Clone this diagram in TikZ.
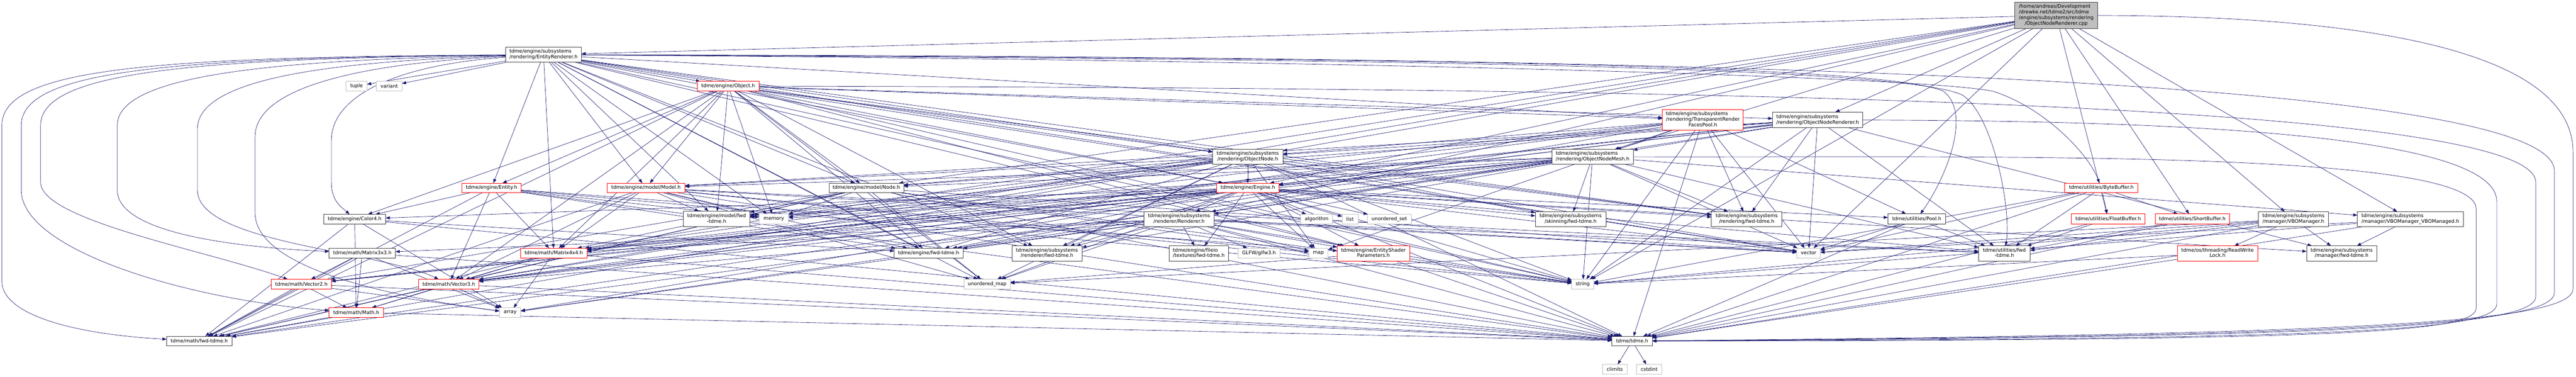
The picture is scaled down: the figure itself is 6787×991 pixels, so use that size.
\documentclass[tikz,border=0pt]{standalone}
\usepackage{fontspec}
\newfontfamily\dejavu{DejaVu Sans}
\usetikzlibrary{arrows.meta}
\definecolor{edgecol}{HTML}{191970}
\definecolor{doxgray}{HTML}{BFBFBF}
\definecolor{doxred}{HTML}{FF0000}
\definecolor{doxdark}{HTML}{404040}
\pgfdeclarelayer{back}
\pgfdeclarelayer{lines}
\pgfsetlayers{back,lines,main}
\newcommand{\nodefont}{\dejavu\fontsize{12.95bp}{14.7bp}\selectfont}
\newcommand{\twolab}[2]{\begin{tabular}{@{}l@{}}#1\\\multicolumn{1}{@{}c@{}}{#2}\end{tabular}}
\newcommand{\dnode}[7]{\node[#1, minimum width={(#4-#3)*1bp}, minimum height={(#6-#5)*1bp}] (#2) at ({(#3+#4)/2},{(#5+#6)/2}) {#7};}
\begin{document}
\begin{tikzpicture}[x=1bp,y=-1bp,
  box/.style={draw, fill=white, inner sep=0pt, outer sep=0pt, line width=1.1bp, font=\nodefont},
  blk/.style={box, draw=doxdark},
  trunc/.style={box, draw=doxred},
  ext/.style={box, draw=doxgray},
  mainn/.style={box, draw=doxdark, fill=doxgray},
  dep/.style={draw=edgecol, line width=0.9bp, -{Triangle[length=11bp,width=8bp]}}
]
\useasboundingbox (0,0) rectangle (6787,991);
\begin{pgfonlayer}{back}
\fill[white] (0,0) rectangle (6787,991);
\end{pgfonlayer}

% ---------------- nodes ----------------
\dnode{mainn}{cpp}{5308}{5527}{6}{75}{\twolab{/home/andreas/Development\\/drewke.net/tdme2/src/tdme\\/engine/subsystems/rendering}{/ObjectNodeRenderer.cpp}}
\dnode{blk}{er}{1332}{1532}{124}{164}{\twolab{tdme/engine/subsystems}{/rendering/EntityRenderer.h}}
\dnode{ext}{tuple}{912}{967}{214}{239}{tuple}
\dnode{ext}{variant}{992}{1059}{214}{239}{variant}
\dnode{trunc}{object}{1837}{2000}{214}{239}{tdme/engine/Object.h}
\dnode{trunc}{trfp}{4380}{4593}{288}{343}{\twolab{tdme/engine/subsystems\\/rendering/TransparentRender}{FacesPool.h}}
\dnode{blk}{onr}{4670}{4908}{295}{336}{\twolab{tdme/engine/subsystems}{/rendering/ObjectNodeRenderer.h}}
\dnode{blk}{onode}{3195}{3380}{393}{432}{\twolab{tdme/engine/subsystems}{/rendering/ObjectNode.h}}
\dnode{blk}{onmesh}{4089}{4303}{393}{432}{\twolab{tdme/engine/subsystems}{/rendering/ObjectNodeMesh.h}}
\dnode{trunc}{entity}{1217}{1373}{482}{507}{tdme/engine/Entity.h}
\dnode{trunc}{model}{1599}{1805}{482}{507}{tdme/engine/model/Model.h}
\dnode{blk}{mnode}{2184}{2381}{482}{507}{tdme/engine/model/Node.h}
\dnode{trunc}{engine}{3206}{3369}{482}{507}{tdme/engine/Engine.h}
\dnode{trunc}{bytebuf}{5440}{5633}{482}{507}{tdme/utilities/ByteBuffer.h}
\dnode{blk}{color4}{853}{1016}{564}{589}{tdme/engine/Color4.h}
\dnode{blk}{modelfwd}{1800}{1976}{556}{597}{\twolab{tdme/engine/model/fwd}{-tdme.h}}
\dnode{ext}{memory}{2000}{2078}{563}{589}{memory}
\dnode{blk}{renderer}{3014}{3199}{557}{597}{\twolab{tdme/engine/subsystems}{/renderer/Renderer.h}}
\dnode{ext}{algorithm}{3427}{3511}{564}{589}{algorithm}
\dnode{ext}{list}{3536}{3578}{564}{589}{list}
\dnode{ext}{uset}{3603}{3718}{564}{589}{unordered\_set}
\dnode{blk}{skinfwd}{4045}{4231}{557}{597}{\twolab{tdme/engine/subsystems}{/skinning/fwd-tdme.h}}
\dnode{blk}{rendfwd}{4509}{4695}{557}{597}{\twolab{tdme/engine/subsystems}{/rendering/fwd-tdme.h}}
\dnode{blk}{pool}{4974}{5126}{563}{589}{tdme/utilities/Pool.h}
\dnode{trunc}{floatbuf}{5457}{5652}{563}{589}{tdme/utilities/FloatBuffer.h}
\dnode{trunc}{shortbuf}{5678}{5874}{563}{589}{tdme/utilities/ShortBuffer.h}
\dnode{blk}{vbom}{5950}{6135}{557}{597}{\twolab{tdme/engine/subsystems}{/manager/VBOManager.h}}
\dnode{blk}{vbomd}{6211}{6490}{557}{597}{\twolab{tdme/engine/subsystems}{/manager/VBOManager\_VBOManaged.h}}
\dnode{blk}{m3}{867}{1042}{653}{679}{tdme/math/Matrix3x3.h}
\dnode{trunc}{m4}{1371}{1547}{653}{679}{tdme/math/Matrix4x4.h}
\dnode{blk}{enginefwd}{2356}{2537}{653}{679}{tdme/engine/fwd-tdme.h}
\dnode{blk}{rendererfwd}{2666}{2851}{647}{687}{\twolab{tdme/engine/subsystems}{/renderer/fwd-tdme.h}}
\dnode{blk}{texfwd}{3080}{3237}{647}{687}{\twolab{tdme/engine/fileio}{/textures/fwd-tdme.h}}
\dnode{ext}{glfw}{3262}{3372}{653}{679}{GLFW/glfw3.h}
\dnode{ext}{map}{3448}{3499}{653}{679}{map}
\dnode{trunc}{esp}{3523}{3714}{647}{687}{\twolab{tdme/engine/EntityShader}{Parameters.h}}
\dnode{ext}{vector}{4734}{4796}{653}{679}{vector}
\dnode{blk}{utilfwd}{5213}{5349}{647}{687}{\twolab{tdme/utilities/fwd}{-tdme.h}}
\dnode{trunc}{rwlock}{5737}{5948}{647}{687}{\twolab{tdme/os/threading/ReadWrite}{Lock.h}}
\dnode{blk}{mgrfwd}{6077}{6262}{647}{687}{\twolab{tdme/engine/subsystems}{/manager/fwd-tdme.h}}
\dnode{trunc}{v2}{715}{873}{735}{761}{tdme/math/Vector2.h}
\dnode{trunc}{v3}{1103}{1262}{735}{761}{tdme/math/Vector3.h}
\dnode{ext}{umap}{2540}{2662}{735}{761}{unordered\_map}
\dnode{ext}{string}{4141}{4199}{735}{761}{string}
\dnode{trunc}{math}{867}{1010}{810}{835}{tdme/math/Math.h}
\dnode{ext}{array}{1316}{1372}{810}{835}{array}
\dnode{blk}{mathfwd}{439}{611}{885}{910}{tdme/math/fwd-tdme.h}
\dnode{blk}{tdme}{4247}{4353}{885}{910}{tdme/tdme.h}
\dnode{ext}{climits}{4222}{4287}{959}{984}{climits}
\dnode{ext}{cstdint}{4312}{4378}{959}{984}{cstdint}

% ---------------- edges ----------------
\begin{pgfonlayer}{lines}
\foreach \tgt in {er,onr,onode,onmesh,engine,mnode,renderer,vbom,vbomd,floatbuf,shortbuf,m4,v3,string,vector}
  \draw[dep] (cpp) -- (\tgt);
\foreach \tgt in {tuple,variant,object,entity,model,m4,memory,modelfwd,onode,trfp,engine,enginefwd,rendererfwd,rendfwd,umap,vector,string,mnode,esp}
  \draw[dep] (er) -- (\tgt);
\foreach \tgt in {entity,model,color4,m4,v3,modelfwd,memory,enginefwd,rendfwd,rendererfwd,onr,trfp,onode,engine,esp,string,vector,mathfwd,mnode,umap}
  \draw[dep] (object) -- (\tgt);
\foreach \tgt in {onmesh,rendfwd,pool,vector,string,m4,v3,enginefwd,modelfwd,onode,map,tdme}
  \draw[dep] (trfp) -- (\tgt);
\foreach \tgt in {onmesh,onode,rendfwd,vector,string,engine,mnode,m4,v3,model,renderer,utilfwd,mgrfwd,v2}
  \draw[dep] (onr) -- (\tgt);
\foreach \tgt in {engine,model,mnode,modelfwd,m4,v3,enginefwd,rendererfwd,rendfwd,skinfwd,vector,string,map,umap,memory,tdme,mathfwd}
  \draw[dep] (onode) -- (\tgt);
\foreach \tgt in {engine,renderer,model,mnode,m4,v2,v3,modelfwd,rendfwd,skinfwd,rendererfwd,utilfwd,vbomd,vector,string,array,mathfwd}
  \draw[dep] (onmesh) -- (\tgt);
\foreach \tgt in {color4,esp,m4,v3,enginefwd,string,tdme,mathfwd,memory}
  \draw[dep] (entity) -- (\tgt);
\foreach \tgt in {modelfwd,memory,m4,v3,map,umap,string,vector,tdme,enginefwd,mathfwd,utilfwd}
  \draw[dep] (model) -- (\tgt);
\foreach \tgt in {modelfwd,memory,m4,v3,v2,map,umap,string,vector,tdme,mathfwd}
  \draw[dep] (mnode) -- (\tgt);
\foreach \tgt in {renderer,algorithm,list,uset,map,umap,vector,string,array,memory,color4,esp,m4,v2,v3,enginefwd,rendererfwd,rendfwd,texfwd,modelfwd,mgrfwd,skinfwd,utilfwd,pool,tdme,mathfwd}
  \draw[dep] (engine) -- (\tgt);
\foreach \tgt in {utilfwd,floatbuf,shortbuf,tdme,vector,string}
  \draw[dep] (bytebuf) -- (\tgt);
\foreach \tgt in {utilfwd,tdme}
  \draw[dep] (floatbuf) -- (\tgt);
\foreach \tgt in {utilfwd,tdme}
  \draw[dep] (shortbuf) -- (\tgt);
\foreach \tgt in {mgrfwd,rwlock,umap,string,vector,tdme,utilfwd}
  \draw[dep] (vbom) -- (\tgt);
\foreach \tgt in {mgrfwd,string,vector,tdme}
  \draw[dep] (vbomd) -- (\tgt);
\foreach \tgt in {tdme,string}
  \draw[dep] (rwlock) -- (\tgt);
\foreach \tgt in {array,tdme,enginefwd,mathfwd,math}
  \draw[dep] (color4) -- (\tgt);
\foreach \tgt in {rendererfwd,texfwd,glfw,map,enginefwd,m3,m4,v3,array,vector,string,umap,tdme,utilfwd,esp}
  \draw[dep] (renderer) -- (\tgt);
\foreach \tgt in {string,tdme,umap}
  \draw[dep] (esp) -- (\tgt);
\foreach \tgt in {vector,tdme,utilfwd}
  \draw[dep] (pool) -- (\tgt);
\foreach \tgt in {v2,math,mathfwd,array,tdme}
  \draw[dep] (m3) -- (\tgt);
\foreach \tgt in {v3,math,mathfwd,array,tdme}
  \draw[dep] (m4) -- (\tgt);
\foreach \tgt in {math,mathfwd,array,tdme}
  \draw[dep] (v2) -- (\tgt);
\foreach \tgt in {math,mathfwd,array,tdme}
  \draw[dep] (v3) -- (\tgt);
\foreach \tgt in {mathfwd,tdme}
  \draw[dep] (math) -- (\tgt);
\foreach \tgt in {climits,cstdint}
  \draw[dep] (tdme) -- (\tgt);

% long edges of EntityRenderer.h bundled to the right, then bending down
\draw[dep] (er) .. controls (3500,152) and (4950,165) .. (5120,240) .. controls (5200,300) and (5120,480) .. (pool);
\draw[dep] (er) .. controls (3500,155) and (5000,170) .. (5170,250) .. controls (5250,300) and (5300,550) .. (utilfwd);
\draw[dep] (er) .. controls (3500,158) and (5050,200) .. (5250,240) .. controls (5380,280) and (5500,400) .. (bytebuf);

% long edges routed round the left side
\draw[dep] (er) .. controls (400,150) and (5,180) .. (5,330) -- (5,740) .. controls (5,830) and (200,880) .. (mathfwd);
\draw[dep] (er) .. controls (450,152) and (56,185) .. (56,330) -- (56,500) .. controls (56,660) and (500,790) .. (math);
\draw[dep] (er) .. controls (500,154) and (107,190) .. (107,330) -- (107,480) .. controls (107,580) and (550,660) .. (v2);
\draw[dep] (er) .. controls (700,158) and (309,200) .. (309,330) -- (309,500) .. controls (309,610) and (600,650) .. (m3);
\draw[dep] (er) .. controls (850,162) and (520,210) .. (520,340) -- (520,500) .. controls (520,640) and (1000,660) .. (v3);
\draw[dep] (er) .. controls (950,166) and (672,230) .. (672,360) -- (672,560) .. controls (672,720) and (1100,790) .. (array);
\draw[dep] (er) .. controls (1050,170) and (873,250) .. (873,370) -- (873,480) .. controls (873,530) and (900,545) .. (color4);

% long edges routed round the right side
\draw[dep] (cpp) .. controls (6300,42) and (6779,150) .. (6779,400) -- (6779,760) .. controls (6779,850) and (6200,880) .. (tdme);
\draw[dep] (er) .. controls (4000,148) and (6730,180) .. (6730,450) -- (6730,770) .. controls (6730,855) and (6200,884) .. (tdme);
\draw[dep] (object) .. controls (4200,232) and (6681,255) .. (6681,480) -- (6681,780) .. controls (6681,860) and (6200,887) .. (tdme);
\draw[dep] (onr) .. controls (5600,318) and (6578,340) .. (6578,530) -- (6578,800) .. controls (6578,870) and (6200,893) .. (tdme);
\draw[dep] (onmesh) .. controls (5200,415) and (6524,390) .. (6524,550) -- (6524,810) .. controls (6524,875) and (6200,896) .. (tdme);
\end{pgfonlayer}
\end{tikzpicture}
\end{document}
